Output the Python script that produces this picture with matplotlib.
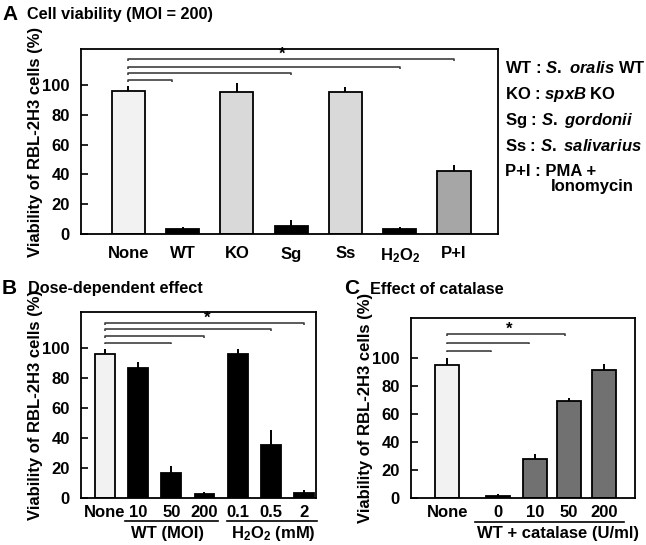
import matplotlib
matplotlib.use("Agg")
import matplotlib.pyplot as plt

plt.rcParams["font.family"] = ["Liberation Sans", "DejaVu Sans"]
plt.rcParams["font.weight"] = "bold"
plt.rcParams["axes.labelweight"] = "bold"
plt.rcParams["mathtext.fontset"] = "custom"
plt.rcParams["mathtext.rm"] = "Liberation Sans:bold"
plt.rcParams["mathtext.bf"] = "Liberation Sans:bold"
plt.rcParams["mathtext.it"] = "Liberation Sans:bold:italic"

# ---- data ----
# A: cell viability (MOI = 200)
a_labels = ["None", "WT", "KO", "Sg", "Ss", "H$_2$O$_2$", "P+I"]
a_values = [96.2, 3.3, 95.5, 5.6, 95.5, 3.2, 42.6]
a_errors = [3.1, 1.2, 6.0, 3.5, 3.5, 1.2, 4.0]
a_colors = ["#f2f2f2", "black", "#d9d9d9", "black", "#d9d9d9", "black", "#a6a6a6"]
a_brackets_end = [0.8, 3.0, 5.0, 6.0]
a_brackets_y = [103.1, 107.8, 112.3, 117.2]

# B: dose-dependent effect
b_labels = ["None", "10", "50", "200", "0.1", "0.5", "2"]
b_values = [96.4, 86.6, 16.8, 2.4, 96.0, 35.4, 3.6]
b_errors = [3.0, 4.5, 4.7, 1.5, 3.7, 10.0, 2.0]
b_colors = ["#f2f2f2"] + ["black"] * 6
b_brackets_end = [2.0, 3.0, 5.0, 6.0]
b_brackets_y = [103.8, 108.3, 112.8, 116.8]

# C: effect of catalase
c_labels = ["None", "0", "10", "50", "200"]
c_pos = [0, 1.45, 2.5, 3.45, 4.45]
c_values = [95.2, 2.0, 28.0, 69.2, 91.8]
c_errors = [5.3, 0.8, 3.6, 2.8, 4.2]
c_colors = ["#f2f2f2", "black", "#717171", "#717171", "#717171"]
c_brackets_end = [1.23, 2.31, 3.33]
c_brackets_y = [105.5, 111.3, 117.2]

legend_lines = [
    r"WT : $\mathit{S.\ oralis}$ WT",
    r"KO : $\mathit{spxB}$ KO",
    r"Sg : $\mathit{S.\ gordonii}$",
    r"Ss : $\mathit{S.\ salivarius}$",
    "P+I : PMA +",
]

W, H = 646, 545
fig = plt.figure(figsize=(W / 100, H / 100), dpi=100)


def make_axes(left, top, right, bottom):
    return fig.add_axes([left / W, 1 - bottom / H, (right - left) / W, (bottom - top) / H])


def style_axes(ax, ylim, xlim, xpad):
    ax.set_ylim(0, ylim)
    ax.set_xlim(*xlim)
    ax.set_yticks([0, 20, 40, 60, 80, 100])
    ax.tick_params(axis="y", direction="in", length=5, width=1.2, pad=8, labelsize=12)
    ax.tick_params(axis="x", length=0, pad=xpad, labelsize=12)
    for s in ax.spines.values():
        s.set_linewidth(1.3)
    ax.set_ylabel("Viability of RBL-2H3 cells (%)", fontsize=12)


def draw_bars(ax, x, vals, errs, colors, width):
    ax.bar(x, vals, width=width, color=colors, edgecolor="black", linewidth=1.3, zorder=2)
    ax.errorbar(x, vals, yerr=[[0] * len(errs), errs], fmt="none", ecolor="black",
                elinewidth=1.4, capsize=0, zorder=3)


def draw_brackets(ax, ends, ys, star_x, star_y):
    for e, y in zip(ends, ys):
        ax.plot([0, 0, e, e], [y - 1.2, y, y, y - 1.2], color="#404040", lw=1.2,
                solid_capstyle="butt", zorder=3)
    ax.text(star_x, star_y, "*", ha="center", va="center", fontsize=12)


# ---- panel A ----
axA = make_axes(81, 49, 498, 234)
xa = list(range(len(a_labels)))
draw_bars(axA, xa, a_values, a_errors, a_colors, 0.61)
style_axes(axA, 124.2, (-0.87, 6.81), 9)
axA.set_xticks(xa)
axA.set_xticklabels(a_labels)
draw_brackets(axA, a_brackets_end, a_brackets_y, 2.83, 120.5)
axA.yaxis.set_label_coords(-0.09, 0.5)

fig.text(2 / W, 1 - 15 / H, "A", fontsize=15, va="center", ha="left")
fig.text(27 / W, 1 - 15 / H, "Cell viability (MOI = 200)", fontsize=11.7, va="center")

leg_y = [68, 94, 120, 146, 171]
for txt, y in zip(legend_lines, leg_y):
    fig.text(505 / W, 1 - y / H, txt, fontsize=12, va="center", ha="left")
fig.text(551 / W, 1 - 186 / H, "Ionomycin", fontsize=12, va="center", ha="left")

# ---- panel B ----
axB = make_axes(81, 311.7, 316, 498)
xb = list(range(len(b_labels)))
draw_bars(axB, xb, b_values, b_errors, b_colors, 0.6)
style_axes(axB, 124.5, (-0.72, 6.36), 5)
axB.set_xticks(xb)
axB.set_xticklabels(b_labels)
draw_brackets(axB, b_brackets_end, b_brackets_y, 3.09, 120.3)
axB.yaxis.set_label_coords(-0.16, 0.5)
tb = axB.get_xaxis_transform()
axB.plot([0.6, 3.4], [-0.123, -0.123], color="black", lw=1.2, transform=tb, clip_on=False)
axB.plot([3.67, 6.39], [-0.123, -0.123], color="black", lw=1.2, transform=tb, clip_on=False)
axB.text(1.9, -0.19, "WT (MOI)", transform=tb, ha="center", va="center", fontsize=12)
axB.text(5.07, -0.19, "H$_2$O$_2$ (mM)", transform=tb, ha="center", va="center", fontsize=12)

fig.text(2 / W, 1 - 289 / H, "B", fontsize=15, va="center", ha="left")
fig.text(28 / W, 1 - 289 / H, "Dose-dependent effect", fontsize=11.7, va="center")

# ---- panel C ----
axC = make_axes(411, 318.3, 635, 498.3)
draw_bars(axC, c_pos, c_values, c_errors, c_colors, 0.68)
style_axes(axC, 128.6, (-1.03, 5.33), 5)
axC.set_xticks(c_pos)
axC.set_xticklabels(c_labels)
draw_brackets(axC, c_brackets_end, c_brackets_y, 1.75, 121.0)
axC.yaxis.set_label_coords(-0.168, 0.5)
tc = axC.get_xaxis_transform()
axC.plot([0.79, 5.03], [-0.13, -0.13], color="black", lw=1.2, transform=tc, clip_on=False)
axC.text(3.13, -0.195, "WT + catalase (U/ml)", transform=tc, ha="center", va="center",
         fontsize=12)

fig.text(344 / W, 1 - 289 / H, "C", fontsize=15, va="center", ha="left")
fig.text(370 / W, 1 - 289 / H, "Effect of catalase", fontsize=11.7, va="center")

fig.savefig("out.png", dpi=100)
plt.close(fig)
